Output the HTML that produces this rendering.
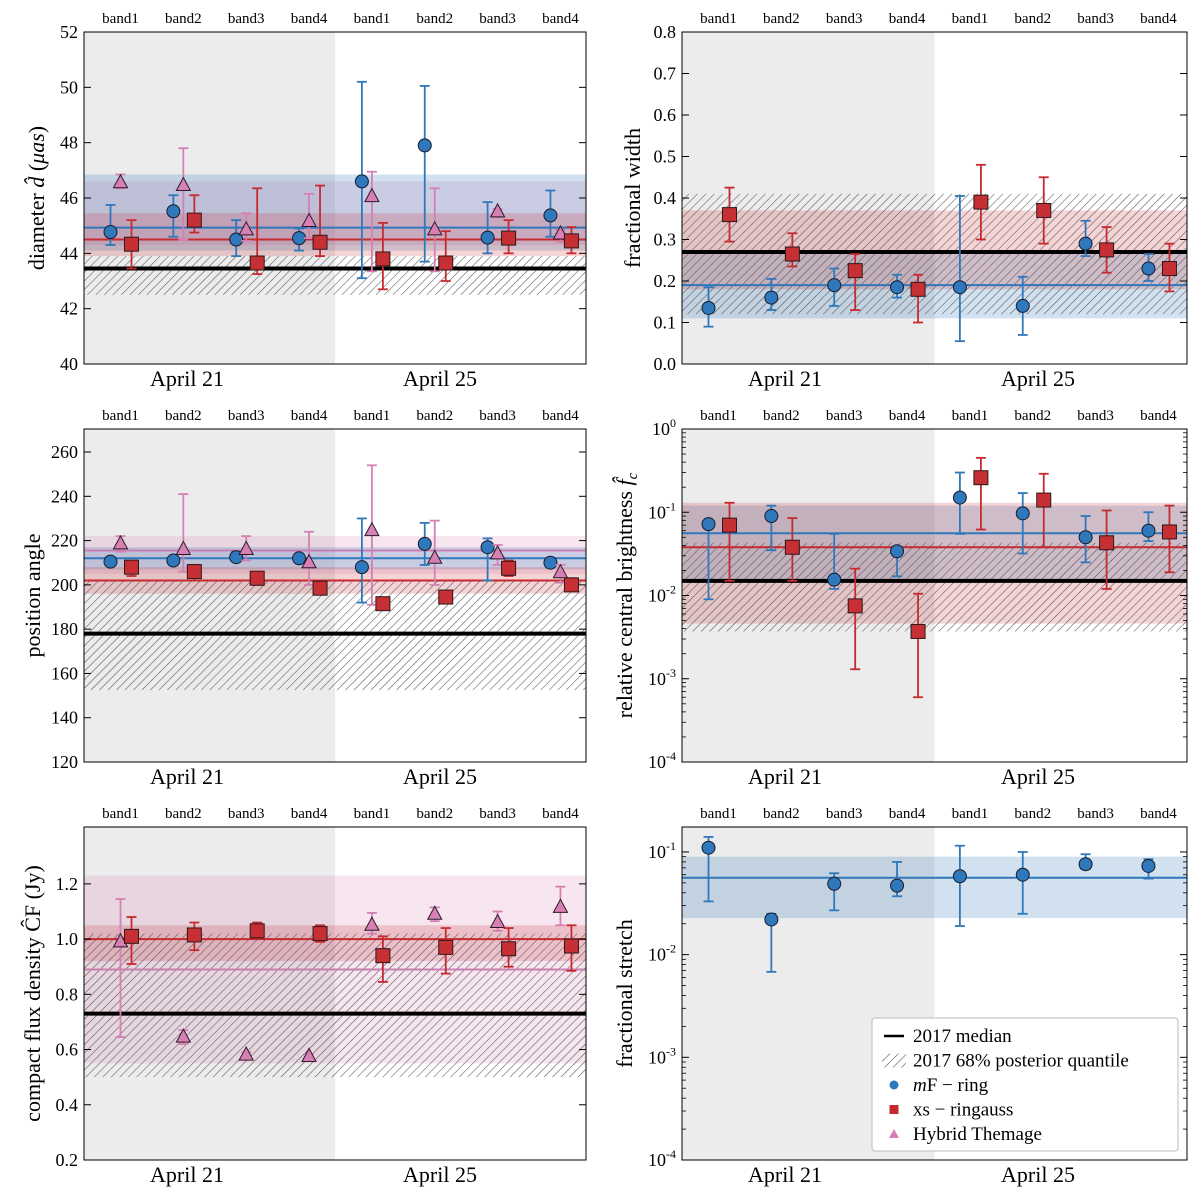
<!DOCTYPE html>
<html><head><meta charset="utf-8"><style>
html,body{margin:0;padding:0;background:#fff}
svg{display:block}
text{font-family:"Liberation Serif","DejaVu Serif",serif;fill:#000}
</style></head><body>
<svg id="chart" width="1200" height="1200" viewBox="0 0 1200 1200" xmlns="http://www.w3.org/2000/svg">
<defs>
<pattern id="hatch" patternUnits="userSpaceOnUse" width="6" height="6" patternTransform="rotate(45)">
<line x1="0" y1="0" x2="0" y2="6" stroke="#555" stroke-width="1.1"/>
</pattern>
</defs>
</svg>
<script>
// ---- data ----
const bandLabels=["band1","band2","band3","band4","band1","band2","band3","band4"];
// Panel 1: diameter
const p1Ticks=[40,42,44,46,48,50,52];
const p1Ring=[44.77,45.52,44.5,44.55,46.6,47.9,44.57,45.37];
const p1RingLo=[44.3,44.6,43.9,44.1,43.1,43.7,44.0,44.6];
const p1RingHi=[45.75,46.1,45.2,44.9,50.2,50.05,45.85,46.27];
const p1Sq=[44.33,45.2,43.65,44.4,43.8,43.65,44.55,44.45];
const p1SqLo=[43.45,44.75,43.25,43.9,42.7,43.0,44.0,44.0];
const p1SqHi=[45.2,46.1,46.35,46.45,45.1,44.8,45.2,44.95];
const p1Tri=[46.55,46.45,44.85,45.15,46.05,44.85,45.5,44.7];
const p1TriLo=[46.35,44.5,44.45,44.55,43.35,43.35,45.3,44.4];
const p1TriHi=[46.85,47.8,45.45,46.15,46.95,46.35,45.6,44.85];
const p1Med2017=43.45, p1Hatch=[42.5,43.9];
const p1BlueBand=[44.1,46.85], p1BlueMed=44.93;
const p1RedBand=[43.9,45.45], p1RedMed=44.5;
const p1PinkBand=[44.3,46.6];
// Panel 2: fractional width
const p2Ticks=[0,0.1,0.2,0.3,0.4,0.5,0.6,0.7,0.8];
const p2Ring=[0.135,0.16,0.19,0.185,0.185,0.14,0.29,0.23];
const p2RingLo=[0.09,0.13,0.14,0.16,0.055,0.07,0.26,0.2];
const p2RingHi=[0.185,0.205,0.23,0.215,0.405,0.21,0.345,0.265];
const p2Sq=[0.36,0.265,0.225,0.18,0.39,0.37,0.275,0.23];
const p2SqLo=[0.295,0.235,0.13,0.1,0.3,0.29,0.22,0.175];
const p2SqHi=[0.425,0.315,0.265,0.215,0.48,0.45,0.33,0.29];
const p2Med2017=0.27, p2Hatch=[0.12,0.41];
const p2BlueBand=[0.11,0.265], p2BlueMed=0.19;
const p2RedBand=[0.18,0.37], p2RedMed=0.272;
// Panel 3: position angle
const p3Ticks=[120,140,160,180,200,220,240,260];
const p3Ring=[210.5,211,212.5,212,208,218.5,217,210];
const p3RingLo=[209,210,211,211,192,209,202,208];
const p3RingHi=[212,212,215,213,230,228,221,212];
const p3Sq=[208,206,203,198.5,191.5,194.5,207.5,200];
const p3SqLo=[204,202,200,197,189,193,204,198];
const p3SqHi=[210,209,205,200,193,196,211,203];
const p3Tri=[218.5,216,216,210,224.5,212,214,205.5];
const p3TriLo=[215,206,211,200,191,200,209,201];
const p3TriHi=[222,241,222,224,254,229,218,209];
const p3Med2017=178, p3Hatch=[152.5,202];
const p3BlueBand=[207,217], p3BlueMed=212;
const p3RedBand=[196,208], p3RedMed=202;
const p3PinkBand=[205,222], p3PinkMed=215.5;
// Panel 4: central brightness (log)
const p4Ticks=[-4,-3,-2,-1,0];
const p4Ring=[0.072,0.09,0.0155,0.034,0.15,0.097,0.05,0.06];
const p4RingLo=[0.009,0.035,0.012,0.017,0.055,0.032,0.025,0.045];
const p4RingHi=[0.08,0.12,0.055,0.036,0.3,0.17,0.09,0.1];
const p4Sq=[0.07,0.038,0.0075,0.0037,0.26,0.14,0.043,0.058];
const p4SqLo=[0.015,0.015,0.0013,0.0006,0.062,0.038,0.012,0.019];
const p4SqHi=[0.13,0.085,0.021,0.0105,0.45,0.29,0.105,0.12];
const p4Med2017=0.015, p4Hatch=[0.0037,0.043];
const p4BlueBand=[0.0155,0.12], p4BlueMed=0.056;
const p4RedBand=[0.0046,0.13], p4RedMed=0.038;
// Panel 5: compact flux density
const p5Ticks=[0.2,0.4,0.6,0.8,1.0,1.2];
const p5Sq=[1.01,1.015,1.03,1.02,0.94,0.97,0.965,0.975];
const p5SqLo=[0.91,0.96,1.0,0.99,0.845,0.875,0.9,0.885];
const p5SqHi=[1.08,1.06,1.06,1.05,1.01,1.04,1.04,1.05];
const p5Tri=[0.99,0.645,0.58,0.575,1.05,1.09,1.06,1.115];
const p5TriLo=[0.645,0.62,0.57,0.565,1.02,1.065,1.03,1.05];
const p5TriHi=[1.145,0.67,0.59,0.585,1.095,1.115,1.1,1.19];
const p5Med2017=0.73, p5Hatch=[0.5,1.02];
const p5RedBand=[0.92,1.05], p5RedMed=1.0;
const p5PinkBand=[0.55,1.23], p5PinkMed=0.89;
// Panel 6: fractional stretch (log)
const p6Ticks=[-4,-3,-2,-1];
const p6Ring=[0.11,0.022,0.049,0.047,0.058,0.06,0.076,0.073];
const p6RingLo=[0.033,0.0068,0.027,0.037,0.019,0.025,0.068,0.055];
const p6RingHi=[0.14,0.025,0.062,0.08,0.115,0.1,0.095,0.085];
const p6BlueBand=[0.0227,0.09], p6BlueMed=0.056;

// ---- rendering ----
const NS="http://www.w3.org/2000/svg";
const svg=document.getElementById('chart');
const BLUE="#2f78bb", RED="#c62a2f", PINK="#d77fb3";
function mk(tag,attrs,parent){const e=document.createElementNS(NS,tag);for(const k in attrs)e.setAttribute(k,attrs[k]);(parent||svg).appendChild(e);return e;}

function panel(cfg){
  const g=mk('g',{});
  
  
  const {x0,x1,y0,y1,lo,hi,log}=cfg;
  const ys=v=>{const t=log?Math.log10(v):v;return y1-(t-lo)/(hi-lo)*(y1-y0);};
  const xs=i=>x0+36.5+62.85*i;
  const W=x1-x0;
  mk('rect',{x:x0,y:y0,width:W/2,height:y1-y0,fill:'#ececec'},g);
  const band=(b,col,nm)=>{if(!b)return;const r=mk('rect',{x:x0,y:ys(b[1]),width:W,height:ys(b[0])-ys(b[1]),fill:col},g);
    };
  band(cfg.pinkBand,'rgba(215,127,179,0.2)','hybrid-band');
  band(cfg.blueBand,'rgba(47,120,187,0.22)','ring-band');
  band(cfg.redBand,'rgba(198,42,47,0.2)','ringauss-band');
  if(cfg.hatch){const h=mk('rect',{x:x0,y:ys(cfg.hatch[1]),width:W,height:ys(cfg.hatch[0])-ys(cfg.hatch[1]),fill:'url(#hatch)'},g);
    }
  const hl=(v,col,w,nm)=>{if(v===undefined)return;const l=mk('line',{x1:x0,x2:x1,y1:ys(v),y2:ys(v),stroke:col,'stroke-width':w},g);
    };
  hl(cfg.pinkMed,'#c87fb0',2,'hybrid-median');
  hl(cfg.blueMed,BLUE,2,'ring-median');
  hl(cfg.redMed,RED,2,'ringauss-median');
  hl(cfg.med,'#000',4,'median-2017');
  const series=(vals,los,his,off,col,fill,shape,nm)=>{
    if(!vals)return;
    vals.forEach((v,i)=>{
      const x=xs(i)+off;
      const sg=mk('g',{},g);
      
      
      const a=ys(his[i]),b=ys(los[i]);
      mk('line',{x1:x,x2:x,y1:a,y2:b,stroke:col,'stroke-width':1.8},sg);
      mk('line',{x1:x-5,x2:x+5,y1:a,y2:a,stroke:col,'stroke-width':1.8},sg);
      mk('line',{x1:x-5,x2:x+5,y1:b,y2:b,stroke:col,'stroke-width':1.8},sg);
      const y=ys(v);
      if(shape==='c')mk('circle',{cx:x,cy:y,r:6.5,fill:fill,stroke:'#1a1a2a','stroke-width':1},sg);
      else if(shape==='s')mk('rect',{x:x-7,y:y-7,width:14,height:14,fill:fill,stroke:'#2a1a1a','stroke-width':1},sg);
      else mk('polygon',{points:`${x},${y-8} ${x+7},${y+5} ${x-7},${y+5}`,fill:fill,stroke:'#2a1a2a','stroke-width':1},sg);
    });
  };
  series(cfg.ring,cfg.ringLo,cfg.ringHi,-10,BLUE,'#2e78bb','c','ring');
  series(cfg.tri,cfg.triLo,cfg.triHi,0,'#d580b2','#d680b4','t','hybrid');
  series(cfg.sq,cfg.sqLo,cfg.sqHi,11,RED,'#c62f33','s','ringauss');
  mk('rect',{x:x0,y:y0,width:W,height:y1-y0,fill:'none',stroke:'#000','stroke-width':1},g);
  cfg.ticks.forEach(t=>{
    const y=log?y1-(t-lo)/(hi-lo)*(y1-y0):ys(t);
    mk('line',{x1:x0,x2:x0+7,y1:y,y2:y,stroke:'#000','stroke-width':1},g);
    mk('line',{x1:x1-7,x2:x1,y1:y,y2:y,stroke:'#000','stroke-width':1},g);
    const tx=mk('text',{x:x0-6,y:y+6,'text-anchor':'end','font-size':18},g);
    
    if(log){tx.textContent='10';const s=mk('tspan',{dy:-8,'font-size':12},tx);s.textContent=String(t);}
    else tx.textContent=cfg.fmt?cfg.fmt(t):t;
    if(log&&t<hi){for(let m=2;m<10;m++){const yy=y1-(t+Math.log10(m)-lo)/(hi-lo)*(y1-y0);if(yy<y0)break;
      mk('line',{x1:x0,x2:x0+4,y1:yy,y2:yy,stroke:'#000','stroke-width':0.8},g);
      mk('line',{x1:x1-4,x2:x1,y1:yy,y2:yy,stroke:'#000','stroke-width':0.8},g);}}
  });
  bandLabels.forEach((b,i)=>{const t=mk('text',{x:xs(i),y:y0-9,'text-anchor':'middle','font-size':15},g);
    t.textContent=b;});
  [['April 21',103],['April 25',356]].forEach(([s,o])=>{const t=mk('text',{x:x0+o,y:y1+22,'text-anchor':'middle','font-size':22},g);
    t.textContent=s;});
  const yl=mk('text',{x:0,y:0,'text-anchor':'middle','font-size':22,transform:`translate(${cfg.lx},${(y0+y1)/2}) rotate(-90)`},g);
  
  yl.innerHTML=cfg.label;
  return {g,ys};
}

panel({name:'diameter-panel',x0:84,x1:586,y0:32,y1:364,lo:40,hi:52,ticks:p1Ticks,lx:44,
  label:'diameter <tspan font-style="italic">d̂</tspan> (<tspan font-style="italic">μas</tspan>)',
  ring:p1Ring,ringLo:p1RingLo,ringHi:p1RingHi,sq:p1Sq,sqLo:p1SqLo,sqHi:p1SqHi,tri:p1Tri,triLo:p1TriLo,triHi:p1TriHi,
  med:p1Med2017,hatch:p1Hatch,blueBand:p1BlueBand,blueMed:p1BlueMed,redBand:p1RedBand,redMed:p1RedMed,pinkBand:p1PinkBand});
panel({name:'fractional-width-panel',x0:682,x1:1187,y0:32,y1:364,lo:0,hi:0.8,ticks:p2Ticks,lx:640,fmt:t=>t.toFixed(1),
  label:'fractional width',
  ring:p2Ring,ringLo:p2RingLo,ringHi:p2RingHi,sq:p2Sq,sqLo:p2SqLo,sqHi:p2SqHi,
  med:p2Med2017,hatch:p2Hatch,blueBand:p2BlueBand,blueMed:p2BlueMed,redBand:p2RedBand,redMed:p2RedMed});
panel({name:'position-angle-panel',x0:84,x1:586,y0:429,y1:762,lo:120,hi:270.4,ticks:p3Ticks,lx:40,
  label:'position angle',
  ring:p3Ring,ringLo:p3RingLo,ringHi:p3RingHi,sq:p3Sq,sqLo:p3SqLo,sqHi:p3SqHi,tri:p3Tri,triLo:p3TriLo,triHi:p3TriHi,
  med:p3Med2017,hatch:p3Hatch,blueBand:p3BlueBand,blueMed:p3BlueMed,redBand:p3RedBand,redMed:p3RedMed,pinkBand:p3PinkBand,pinkMed:p3PinkMed});
panel({name:'central-brightness-panel',x0:682,x1:1187,y0:429,y1:762,lo:-4,hi:0,log:true,ticks:p4Ticks,lx:632,
  label:'relative central brightness <tspan font-style="italic">f̂</tspan><tspan font-style="italic" font-size="15" dy="5">c</tspan>',
  ring:p4Ring,ringLo:p4RingLo,ringHi:p4RingHi,sq:p4Sq,sqLo:p4SqLo,sqHi:p4SqHi,
  med:p4Med2017,hatch:p4Hatch,blueBand:p4BlueBand,blueMed:p4BlueMed,redBand:p4RedBand,redMed:p4RedMed});
panel({name:'compact-flux-panel',x0:84,x1:586,y0:827,y1:1160,lo:0.2,hi:1.406,ticks:p5Ticks,lx:40,fmt:t=>t.toFixed(1),
  label:'compact flux density ĈF (Jy)',
  sq:p5Sq,sqLo:p5SqLo,sqHi:p5SqHi,tri:p5Tri,triLo:p5TriLo,triHi:p5TriHi,
  med:p5Med2017,hatch:p5Hatch,redBand:p5RedBand,redMed:p5RedMed,pinkBand:p5PinkBand,pinkMed:p5PinkMed});
panel({name:'fractional-stretch-panel',x0:682,x1:1187,y0:827,y1:1160,lo:-4,hi:-0.757,log:true,ticks:p6Ticks,lx:632,
  label:'fractional stretch',
  ring:p6Ring,ringLo:p6RingLo,ringHi:p6RingHi,blueBand:p6BlueBand,blueMed:p6BlueMed});

const lg=mk('g',{});


mk('rect',{x:872,y:1018,width:306,height:133,fill:'#fff',stroke:'#bbb','stroke-width':1,rx:3},lg);
const items=[['2017 median','line'],['2017 68% posterior quantile','hatch'],['<tspan font-style="italic">m</tspan>F − ring','c'],['xs − ringauss','s'],['Hybrid Themage','t']];
items.forEach(([txt,k],i)=>{
  const y=1036+i*24.5;
  const e=mk('g',{},lg);
  
  
  if(k==='line')mk('line',{x1:884,x2:904,y1:y,y2:y,stroke:'#000','stroke-width':2.5},e);
  else if(k==='hatch')mk('rect',{x:882,y:y-7,width:24,height:14,fill:'url(#hatch)'},e);
  else if(k==='c')mk('circle',{cx:894,cy:y,r:4.5,fill:BLUE},e);
  else if(k==='s')mk('rect',{x:889.5,y:y-4.5,width:9,height:9,fill:RED},e);
  else mk('polygon',{points:`894,${y-5} 899,${y+4} 889,${y+4}`,fill:PINK},e);
  const t=mk('text',{x:913,y:y+6,'font-size':19},e);
  t.innerHTML=txt;
});
</script>
</body></html>
